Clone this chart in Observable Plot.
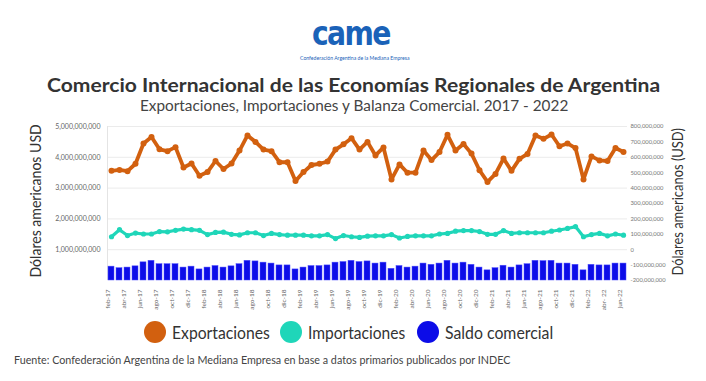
<!DOCTYPE html>
<html><head><meta charset="utf-8">
<script src="https://cdn.jsdelivr.net/npm/d3@7"></script>
<script src="https://cdn.jsdelivr.net/npm/@observablehq/plot@0.6"></script>
<style>
body{margin:0;background:#fff;font-family:Lato,sans-serif;}
#page{position:relative;width:706px;height:381px;overflow:hidden;background:#fff;}
.abs{position:absolute;left:0;top:0;white-space:nowrap;line-height:1;transform-origin:0 0;}
.dot{position:absolute;border-radius:50%;width:22px;height:22px;}
#chart{position:absolute;left:0;top:110px;}
</style></head><body><div id="page"><div id="chart"></div></div>
<script>
// ---- data (values in millions of USD) ----
const months = ["feb-17","mar-17","abr-17","may-17","jun-17","jul-17","ago-17","sep-17","oct-17","nov-17","dic-17",
"ene-18","feb-18","mar-18","abr-18","may-18","jun-18","jul-18","ago-18","sep-18","oct-18","nov-18","dic-18",
"ene-19","feb-19","mar-19","abr-19","may-19","jun-19","jul-19","ago-19","sep-19","oct-19","nov-19","dic-19",
"ene-20","feb-20","mar-20","abr-20","may-20","jun-20","jul-20","ago-20","sep-20","oct-20","nov-20","dic-20",
"ene-21","feb-21","mar-21","abr-21","may-21","jun-21","jul-21","ago-21","sep-21","oct-21","nov-21","dic-21",
"ene-22","feb-22","mar-22","abr- 22","may-22","jun-22"];
const xTickLabels = ["feb-17","abr-17","jun-17","ago-17","oct-17","dic-17","feb-18","abr-18","jun-18","ago-18","oct-18","dic-18",
"feb-19","abr-19","jun-19","ago-19","oct-19","dic-19","feb-20","abr-20","jun-20","ago-20","oct-20","dic-20",
"feb-21","abr-21","jun-21","ago-21","oct-21","dic-21","feb-22","abr- 22","jun-22"];
const exportaciones = [3560,3590,3550,3790,4450,4660,4260,4200,4330,3670,
3800,3400,3520,3880,3620,3800,4220,4710,4500,4250,
4200,3840,3840,3230,3520,3750,3790,3860,4250,4420,
4620,4250,4500,4060,4320,3280,3770,3500,3500,4220,
3910,4170,4730,4220,4430,4120,3580,3200,3460,3960,
3560,3950,4110,4710,4600,4740,4360,4450,4300,3280,
4030,3900,3880,4300,4170];
const importaciones = [1420,1650,1460,1540,1510,1510,1590,1580,1630,1670,
1650,1630,1490,1560,1570,1500,1480,1550,1550,1460,
1530,1490,1470,1470,1470,1450,1450,1490,1360,1460,
1420,1400,1440,1450,1450,1490,1380,1430,1450,1450,
1450,1510,1530,1600,1620,1620,1590,1500,1500,1620,
1530,1550,1550,1550,1550,1600,1640,1690,1750,1420,
1490,1530,1450,1510,1470];
const saldoComercial = [450,400,420,460,590,640,530,530,530,420,
450,360,420,470,420,460,530,640,620,580,
550,490,490,360,420,470,470,490,580,600,
640,600,620,550,580,380,470,420,450,550,
510,550,640,550,580,510,420,330,400,480,
420,490,530,640,630,640,550,550,510,330,
510,490,490,550,550];
const leftTicks = [1e9,2e9,3e9,4e9,5e9];
const rightTicks = [-2e8,-1e8,0,1e8,2e8,3e8,4e8,5e8,6e8,7e8,8e8];
const leftDomain = [0,5e9];
const rightDomain = [-2e8,8e8];
const seriesNames = ["Exportaciones","Importaciones","Saldo comercial"];
const colors = ["#d2600f","#1fd6b9","#0c0ce8"];

const data = months.map((m,i)=>({m, exp: exportaciones[i]*1e6, imp: importaciones[i]*1e6, sal: saldoComercial[i]*1e6}));
const toLeft = r => (r - rightDomain[0]) * (leftDomain[1]-leftDomain[0])/(rightDomain[1]-rightDomain[0]) + leftDomain[0];
const fromLeft = l => (l - leftDomain[0]) * (rightDomain[1]-rightDomain[0])/(leftDomain[1]-leftDomain[0]) + rightDomain[0];
const fmt = d3.format(",");
const fmtSigned = v => (v<0?"-":"") + fmt(Math.abs(Math.round(v)));

const chart = Plot.plot({
  width: 706, height: 205,
  marginLeft: 107, marginRight: 79, marginTop: 16, marginBottom: 35,
  style: {fontFamily: "Lato, sans-serif", background: "transparent", overflow: "visible"},
  x: {type: "band", domain: months, paddingInner: 0.25, paddingOuter: 0.125, axis: null},
  y: {domain: leftDomain, axis: null},
  marks: [
    Plot.ruleY(leftTicks, {stroke: "#ebebeb", strokeWidth: 1}),
    Plot.ruleX([months[0]], {dx: -4, stroke: "#e4e4e4"}),
    Plot.axisY(leftTicks, {anchor: "left", label: null, tickSize: 0, tickPadding: 7, tickFormat: fmt, fontSize: 7, color: "#666"}),
    Plot.axisY(rightTicks.map(toLeft), {anchor: "right", label: null, tickSize: 0, tickPadding: 3, tickFormat: d => fmtSigned(fromLeft(d)), fontSize: 5.8, color: "#777"}),
    Plot.axisX(xTickLabels, {anchor: "bottom", label: null, tickSize: 0, tickPadding: 9, tickRotate: -90, fontSize: 6.5, color: "#666", dx: -4}),
    Plot.barY(data, {x: "m", y: "sal", fill: colors[2], stroke: "#5050ff", strokeWidth: 0.5}),
    Plot.line(data, {x: "m", y: "imp", stroke: colors[1], strokeWidth: 3.2}),
    Plot.dot(data, {x: "m", y: "imp", fill: colors[1], r: 2.6}),
    Plot.line(data, {x: "m", y: "exp", stroke: colors[0], strokeWidth: 3.8}),
    Plot.dot(data, {x: "m", y: "exp", fill: colors[0], r: 3})
  ]
});
document.getElementById("chart").appendChild(chart);

const page = document.getElementById("page");
function addText(txt, style){
  const el = document.createElement("div");
  el.className = "abs"; el.textContent = txt;
  Object.assign(el.style, style);
  page.appendChild(el);
  return el;
}
function place(el, cx, cy, w, rot){
  const nat = el.offsetWidth, h = el.offsetHeight;
  const s = w / nat;
  el.style.transform = `translate(${cx}px,${cy}px) rotate(${rot||0}deg) scale(${s},1) translate(${-nat/2}px,${-h/2}px)`;
}
const items = [];
function T(txt, style, cx, cy, w, rot){ items.push([addText(txt, style), cx, cy, w, rot]); }

// logo (text approximation)
T("came", {fontFamily:"DejaVu Sans", fontWeight:"bold", fontSize:"34px", color:"#1a62b8", letterSpacing:"-2px"}, 351, 33, 78, 0);
T("Confederación Argentina de la Mediana Empresa", {fontFamily:"Lato", fontSize:"5px", color:"#1a62b8"}, 355, 58, 110, 0);
// titles
T("Comercio Internacional de las Economías Regionales de Argentina", {fontFamily:"Lato", fontWeight:"bold", fontSize:"19px", color:"#333"}, 353.5, 84, 613, 0);
T("Exportaciones, Importaciones y Balanza Comercial. 2017 - 2022", {fontFamily:"Lato", fontSize:"14.5px", color:"#444"}, 354, 106, 428, 0);
// axis titles
T("Dólares americanos USD", {fontFamily:"Lato", fontSize:"16px", color:"#333"}, 35, 201, 153, -90);
T("Dólares americanos (USD)", {fontFamily:"Lato", fontSize:"14.5px", color:"#333"}, 678, 202, 147, -90);
// legend
const legendX = [155, 291, 428];
const legendTextW = [98, 97, 108];
seriesNames.forEach((n,i)=>{
  const d = document.createElement("div");
  d.className = "dot";
  d.style.left = (legendX[i]-11)+"px"; d.style.top = (332-11)+"px"; d.style.background = colors[i];
  page.appendChild(d);
  T(n, {fontFamily:"Lato", fontSize:"17px", color:"#333"}, legendX[i]+17+legendTextW[i]/2, 332, legendTextW[i], 0);
});
// footer
T("Fuente: Confederación Argentina de la Mediana Empresa en base a datos primarios publicados por INDEC", {fontFamily:"Lato", fontSize:"11.5px", color:"#444"}, 14+248, 360, 496, 0);

function layout(){ items.forEach(([el,cx,cy,w,rot])=>place(el,cx,cy,w,rot)); }
layout();
if (document.fonts && document.fonts.ready) document.fonts.ready.then(layout);
</script>
</body></html>
